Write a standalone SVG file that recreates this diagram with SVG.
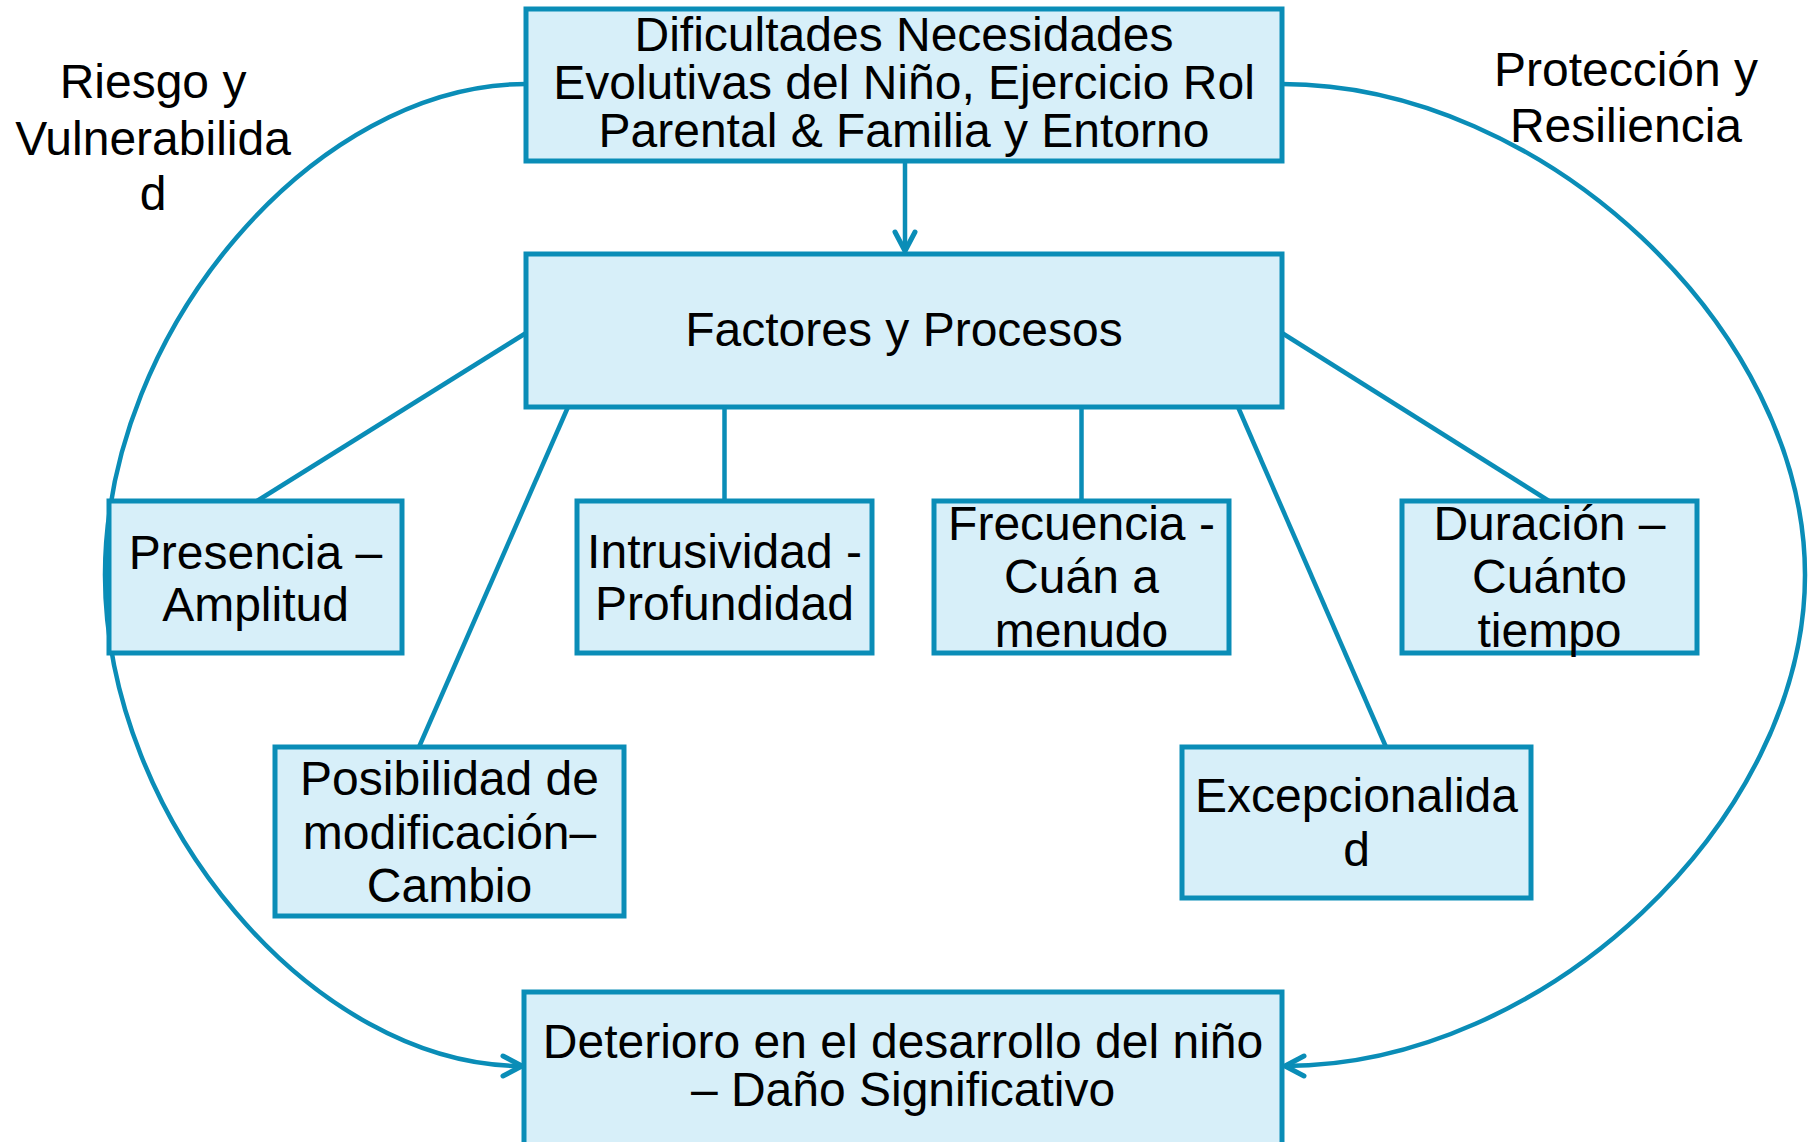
<svg xmlns="http://www.w3.org/2000/svg" width="1813" height="1142" viewBox="0 0 1813 1142">
<style>
  .box{fill:#D7EFF9;stroke:#0A8DB7;stroke-width:5}
  .t{font-family:"Liberation Sans",Arial,sans-serif;font-size:48px;fill:#000;text-anchor:middle}
  .ln{fill:none;stroke:#0A8DB7;stroke-width:4.5}
</style>
<defs>
  <marker id="arr" markerUnits="userSpaceOnUse" markerWidth="30" markerHeight="30" viewBox="-24 -15 28 30" refX="0" refY="0" orient="auto" overflow="visible">
    <path d="M -19 -10 L 0 0 L -19 10" fill="none" stroke="#0A8DB7" stroke-width="5" stroke-linecap="round" stroke-linejoin="round"/>
  </marker>
</defs>
<rect width="1813" height="1142" fill="#fff"/>
<g id="connectors">
  <path class="ln" d="M 905 161 L 905 251" marker-end="url(#arr)"/>
  <path class="ln" d="M 526 84 C 315.5 84, 105 329.5, 105 575 C 105 820.5, 314.5 1066, 522 1066" marker-end="url(#arr)"/>
  <path class="ln" d="M 1282 84 C 1543.5 84, 1805 329.5, 1805 575 C 1805 820.5, 1544 1066, 1285 1066" marker-end="url(#arr)"/>
  <line class="ln" x1="526" y1="333" x2="257" y2="501"/>
  <line class="ln" x1="568" y1="407" x2="419" y2="747"/>
  <line class="ln" x1="724.5" y1="407" x2="724.5" y2="501"/>
  <line class="ln" x1="1081.5" y1="407" x2="1081.5" y2="501"/>
  <line class="ln" x1="1238" y1="407" x2="1386" y2="747"/>
  <line class="ln" x1="1282" y1="333" x2="1549" y2="501"/>
</g>
<g id="label-riesgo">
  <text class="t" x="153" y="98">Riesgo y</text>
  <text class="t" x="153" y="155">Vulnerabilida</text>
  <text class="t" x="153" y="210">d</text>
</g>
<g id="label-proteccion">
  <text class="t" x="1626" y="86">Protección y</text>
  <text class="t" x="1626" y="142">Resiliencia</text>
</g>
<g id="node-dificultades">
  <rect class="box" x="526" y="9" width="756" height="152"/>
  <text class="t" x="904" y="51">Dificultades Necesidades</text>
  <text class="t" x="904" y="99">Evolutivas del Niño, Ejercicio Rol</text>
  <text class="t" x="904" y="147">Parental &amp; Familia y Entorno</text>
</g>
<g id="node-factores">
  <rect class="box" x="526" y="254" width="756" height="153"/>
  <text class="t" x="904" y="346">Factores y Procesos</text>
</g>
<g id="node-presencia">
  <rect class="box" x="109" y="501" width="293" height="152"/>
  <text class="t" x="255.5" y="569">Presencia –</text>
  <text class="t" x="255.5" y="621">Amplitud</text>
</g>
<g id="node-intrusividad">
  <rect class="box" x="577" y="501" width="295" height="152"/>
  <text class="t" x="724.5" y="568">Intrusividad -</text>
  <text class="t" x="724.5" y="620">Profundidad</text>
</g>
<g id="node-frecuencia">
  <rect class="box" x="934" y="501" width="295" height="152"/>
  <text class="t" x="1081.5" y="540">Frecuencia -</text>
  <text class="t" x="1081.5" y="593">Cuán a</text>
  <text class="t" x="1081.5" y="647">menudo</text>
</g>
<g id="node-duracion">
  <rect class="box" x="1402" y="501" width="295" height="152"/>
  <text class="t" x="1549.5" y="540">Duración –</text>
  <text class="t" x="1549.5" y="593">Cuánto</text>
  <text class="t" x="1549.5" y="647">tiempo</text>
</g>
<g id="node-posibilidad">
  <rect class="box" x="275" y="747" width="349" height="169"/>
  <text class="t" x="449.5" y="795">Posibilidad de</text>
  <text class="t" x="449.5" y="849">modificación–</text>
  <text class="t" x="449.5" y="902">Cambio</text>
</g>
<g id="node-excepcionalidad">
  <rect class="box" x="1182" y="747" width="349" height="151"/>
  <text class="t" x="1356.5" y="812">Excepcionalida</text>
  <text class="t" x="1356.5" y="866">d</text>
</g>
<g id="node-deterioro">
  <rect class="box" x="524" y="992" width="758" height="160"/>
  <text class="t" x="903" y="1058">Deterioro en el desarrollo del niño</text>
  <text class="t" x="903" y="1106">– Daño Significativo</text>
</g>
</svg>
